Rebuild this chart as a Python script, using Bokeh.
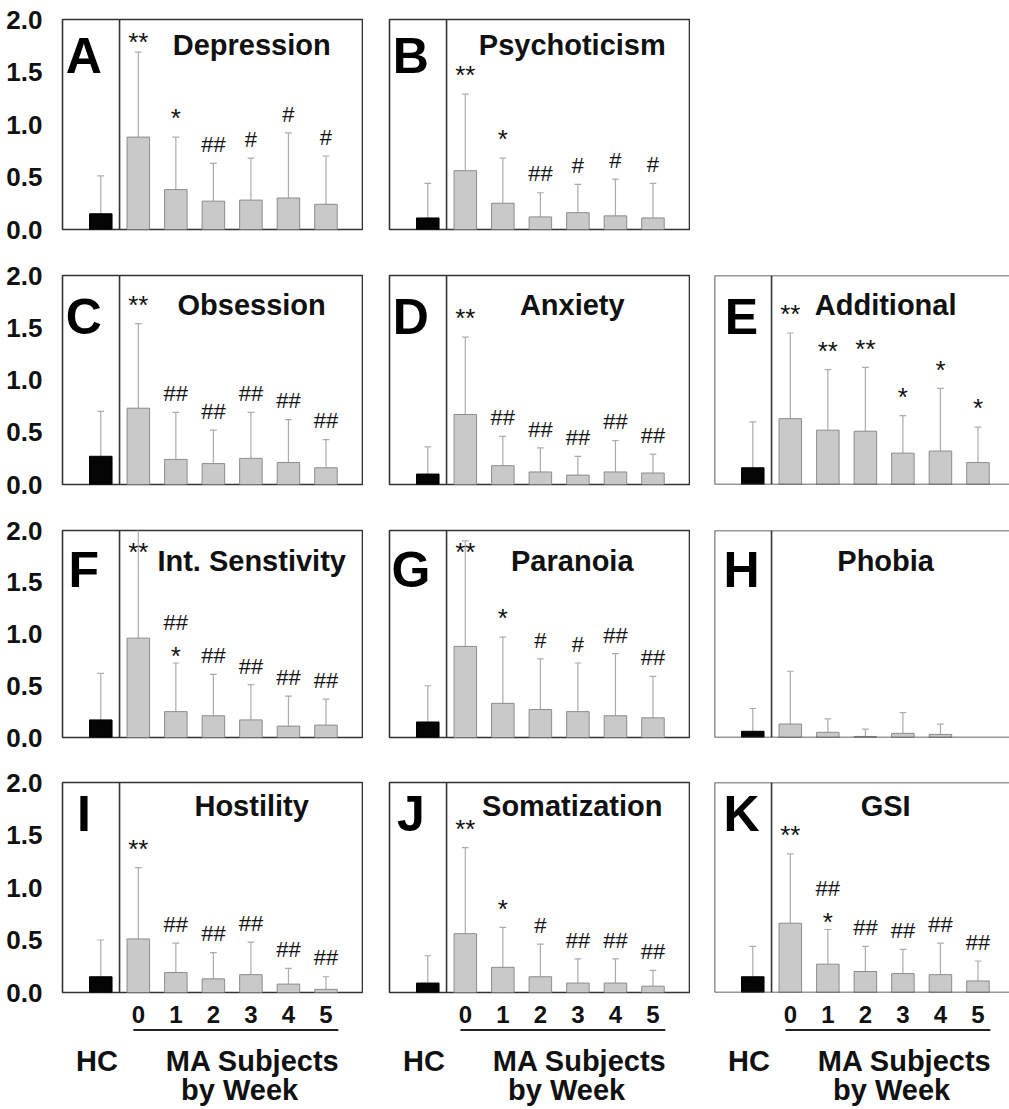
from bokeh.plotting import figure
from bokeh.models import Range1d, FixedTicker, Span, Spacer
from bokeh.layouts import row, column
from bokeh.core.properties import value
from bokeh.embed import file_html
from bokeh.resources import INLINE

# ---------------- data ----------------
week_labels = ["0", "1", "2", "3", "4", "5"]
y_ticks = [0.0, 0.5, 1.0, 1.5, 2.0]
y_tick_labels = ["0.0", "0.5", "1.0", "1.5", "2.0"]
group_labels = ["HC", "MA Subjects", "by Week"]

letters = ["A", "B", "C", "D", "E", "F", "G", "H", "I", "J", "K"]
titles = ["Depression", "Psychoticism", "Obsession", "Anxiety", "Additional",
          "Int. Senstivity", "Paranoia", "Phobia", "Hostility", "Somatization", "GSI"]

hc_mean = [0.15, 0.11, 0.27, 0.10, 0.16, 0.17, 0.15, 0.06, 0.15, 0.09, 0.15]
hc_sd = [0.36, 0.33, 0.43, 0.26, 0.44, 0.45, 0.35, 0.22, 0.35, 0.26, 0.29]

depression_mean = [0.88, 0.38, 0.27, 0.28, 0.30, 0.24]
depression_sd = [0.81, 0.50, 0.36, 0.40, 0.62, 0.46]
depression_sig = ["**", "*", "##", "#", "#", "#"]

psychoticism_mean = [0.56, 0.25, 0.12, 0.16, 0.13, 0.11]
psychoticism_sd = [0.73, 0.43, 0.23, 0.27, 0.35, 0.33]
psychoticism_sig = ["**", "*", "##", "#", "#", "#"]

obsession_mean = [0.73, 0.24, 0.20, 0.25, 0.21, 0.16]
obsession_sd = [0.81, 0.45, 0.32, 0.44, 0.41, 0.27]
obsession_sig = ["**", "##", "##", "##", "##", "##"]

anxiety_mean = [0.67, 0.18, 0.12, 0.09, 0.12, 0.11]
anxiety_sd = [0.74, 0.28, 0.23, 0.18, 0.30, 0.18]
anxiety_sig = ["**", "##", "##", "##", "##", "##"]

additional_mean = [0.63, 0.52, 0.51, 0.30, 0.32, 0.21]
additional_sd = [0.82, 0.58, 0.61, 0.36, 0.60, 0.34]
additional_sig = ["**", "**", "**", "*", "*", "*"]

intsens_mean = [0.96, 0.25, 0.21, 0.17, 0.11, 0.12]
intsens_sd = [1.14, 0.47, 0.40, 0.34, 0.29, 0.25]
intsens_sig = ["**", "##\n*", "##", "##", "##", "##"]

paranoia_mean = [0.88, 0.33, 0.27, 0.25, 0.21, 0.19]
paranoia_sd = [1.02, 0.64, 0.49, 0.47, 0.60, 0.40]
paranoia_sig = ["**", "*", "#", "#", "##", "##"]

phobia_mean = [0.13, 0.05, 0.01, 0.04, 0.03, None]
phobia_sd = [0.51, 0.13, 0.07, 0.20, 0.10, None]
phobia_sig = ["", "", "", "", "", ""]

hostility_mean = [0.51, 0.19, 0.13, 0.17, 0.08, 0.03]
hostility_sd = [0.68, 0.28, 0.25, 0.31, 0.15, 0.12]
hostility_sig = ["**", "##", "##", "##", "##", "##"]

somatization_mean = [0.56, 0.24, 0.15, 0.09, 0.09, 0.06]
somatization_sd = [0.82, 0.38, 0.31, 0.23, 0.23, 0.15]
somatization_sig = ["**", "*", "#", "##", "##", "##"]

gsi_mean = [0.66, 0.27, 0.20, 0.18, 0.17, 0.11]
gsi_sd = [0.66, 0.33, 0.24, 0.23, 0.30, 0.19]
gsi_sig = ["**", "##\n*", "##", "##", "##", "##"]

ma_means = [depression_mean, psychoticism_mean, obsession_mean, anxiety_mean, additional_mean,
            intsens_mean, paranoia_mean, phobia_mean, hostility_mean, somatization_mean, gsi_mean]
ma_sds = [depression_sd, psychoticism_sd, obsession_sd, anxiety_sd, additional_sd,
          intsens_sd, paranoia_sd, phobia_sd, hostility_sd, somatization_sd, gsi_sd]
ma_sigs = [depression_sig, psychoticism_sig, obsession_sig, anxiety_sig, additional_sig,
           intsens_sig, paranoia_sig, phobia_sig, hostility_sig, somatization_sig, gsi_sig]

# grid position of each panel (row, col)
panel_pos = [(0, 0), (0, 1), (1, 0), (1, 1), (1, 2), (2, 0), (2, 1), (2, 2), (3, 0), (3, 1), (3, 2)]

# ---------------- style / layout ----------------
FONT = "Liberation Sans"
TXT = "#111111"
FRAME = "#333333"
HC_X = 0
MA_X = [1, 2, 3, 4, 5, 6]
X0 = -1.02
PX_PER_UNIT = 301 / 8.02

ROWS = [(19, 210, 22), (24, 209, 22), (24, 207, 21), (24, 210, 36)]  # top border, frame h, bottom border
COLS = [(62, 301), (26, 301), (24, 295)]  # left border, frame w
TITLE_X = [4.02, 3.85, 3.54]
LETTER_X = [-0.45, -0.45, -0.30]
TITLE_C = [25, 29, 30, 23]    # text centre, px below frame top
LETTER_C = [36, 41, 39, 31]
LABEL_H = 1109 - sum(sum(r) for r in ROWS)

x_ranges = [Range1d(X0, X0 + cw / PX_PER_UNIT) for (_, cw) in COLS]


def make_panel(k):
    r, c = panel_pos[k]
    bt, fh, bb = ROWS[r]
    bl, fw = COLS[c]
    bottom_row = r == len(ROWS) - 1
    p = figure(width=bl + fw, height=bt + fh + bb, x_range=x_ranges[c], y_range=Range1d(0, 2),
               output_backend="svg", toolbar_location=None, title=None,
               x_axis_location="below" if bottom_row else None,
               y_axis_location="left" if c == 0 else None,
               min_border_left=bl, min_border_right=0, min_border_top=bt, min_border_bottom=bb,
               background_fill_color="white", border_fill_color="white")
    p.grid.grid_line_color = None
    if c == 0:
        ax = p.yaxis[0]
        ax.ticker = FixedTicker(ticks=y_ticks)
        ax.major_label_overrides = {t: l for t, l in zip(y_ticks, y_tick_labels)}
        ax.axis_line_color = None
        ax.major_tick_line_color = None
        ax.minor_tick_line_color = None
        ax.major_label_standoff = 14
        ax.major_label_text_font = FONT
        ax.major_label_text_font_size = "26px"
        ax.major_label_text_font_style = "bold"
        ax.major_label_text_color = TXT
    if bottom_row:
        xa = p.xaxis[0]
        xa.ticker = FixedTicker(ticks=MA_X)
        xa.major_label_overrides = {t: l for t, l in zip(MA_X, week_labels)}
        xa.axis_line_color = None
        xa.major_tick_line_color = None
        xa.minor_tick_line_color = None
        xa.major_label_standoff = 7
        xa.major_label_text_font = FONT
        xa.major_label_text_font_size = "24px"
        xa.major_label_text_font_style = "bold"
        xa.major_label_text_color = TXT
    if c == 2:
        p.outline_line_color = None
        for loc, dim in [(2.0, "width"), (0.0, "width"), (X0, "height")]:
            p.add_layout(Span(location=loc, dimension=dim, line_color=FRAME, line_width=1.6))
    else:
        p.outline_line_color = FRAME
        p.outline_line_width = 1.6
    p.add_layout(Span(location=0.5, dimension="height", line_color=FRAME, line_width=1.6))

    means = ma_means[k]
    sds = ma_sds[k]
    xs = [x for x, m in zip(MA_X, means) if m is not None]
    ms = [m for m in means if m is not None]
    ss = [s for s in sds if s is not None]

    # error bars (upper only)
    ex = [HC_X] + xs
    eb = [hc_mean[k]] + ms
    et = [hc_mean[k] + hc_sd[k]] + [m + s for m, s in zip(ms, ss)]
    p.segment(x0=ex, y0=eb, x1=ex, y1=et, line_color="#ababab", line_width=1.2)
    p.segment(x0=[x - 0.09 for x in ex], y0=et, x1=[x + 0.09 for x in ex], y1=et,
              line_color="#ababab", line_width=1.2)

    p.vbar(x=[HC_X], top=[hc_mean[k]], bottom=0, width=0.6, fill_color="#050505",
           line_color="#000000", line_width=1)
    p.vbar(x=xs, top=ms, bottom=0, width=0.6, fill_color="#c9c9c9",
           line_color="#8c8c8c", line_width=1)

    # significance marks (y = middle of the text)
    mx, my, mt = [], [], []
    for x, m, s, sig in zip(MA_X, means, sds, ma_sigs[k]):
        if not sig or m is None:
            continue
        cap = m + s
        parts = sig.split("\n")
        if len(parts) == 2:
            mx += [x, x]
            my += [cap + 0.07, cap + 0.39]
            mt += [parts[1], parts[0]]
        else:
            mx.append(x)
            my.append(min(cap + 0.18, 1.79))
            mt.append(sig)
    if mt:
        sizes = ["26px" if t.startswith("*") else "22px" for t in mt]
        p.text(x=mx, y=my, text=mt, text_font=value(FONT), text_font_size=sizes,
               text_align="center", text_baseline="middle", text_color=TXT)

    unit = fh / 2.0
    p.text(x=[TITLE_X[c]], y=[2 - TITLE_C[r] / unit], text=[titles[k]], text_font=value(FONT),
           text_font_size="29px", text_font_style="bold", text_align="center",
           text_baseline="middle", text_color=TXT)
    p.text(x=[LETTER_X[c]], y=[2 - LETTER_C[r] / unit], text=[letters[k]], text_font=value(FONT),
           text_font_size="50px", text_font_style="bold", text_align="center",
           text_baseline="middle", text_color="#000000")
    return p


def make_labels(c):
    bl, fw = COLS[c]
    p = figure(width=bl + fw, height=LABEL_H, x_range=x_ranges[c], y_range=Range1d(LABEL_H, 0),
               output_backend="svg", toolbar_location=None, title=None,
               x_axis_location=None, y_axis_location=None,
               min_border_left=bl, min_border_right=0, min_border_top=0, min_border_bottom=0,
               background_fill_color="white", border_fill_color="white")
    p.grid.grid_line_color = None
    p.outline_line_color = None
    p.segment(x0=[0.87], y0=[1.5], x1=[6.33], y1=[1.5], line_color="#222222", line_width=2)
    p.text(x=[-0.1, 4.05, 3.7], y=[32, 32, 61], text=group_labels, text_font=value(FONT),
           text_font_size="29px", text_font_style="bold", text_align="center",
           text_baseline="middle", text_color=TXT)
    return p


panels = [make_panel(k) for k in range(len(letters))]
grid = [[None, None, None] for _ in range(4)]
for k, (r, c) in enumerate(panel_pos):
    grid[r][c] = panels[k]
grid[0][2] = Spacer(width=COLS[2][0] + COLS[2][1], height=sum(ROWS[0]))

layout = column(
    row(*grid[0], spacing=0),
    row(*grid[1], spacing=0),
    row(*grid[2], spacing=0),
    row(*grid[3], spacing=0),
    row(*[make_labels(c) for c in range(3)], spacing=0),
    spacing=0,
)

open("out.html", "w").write(file_html(layout, INLINE))
